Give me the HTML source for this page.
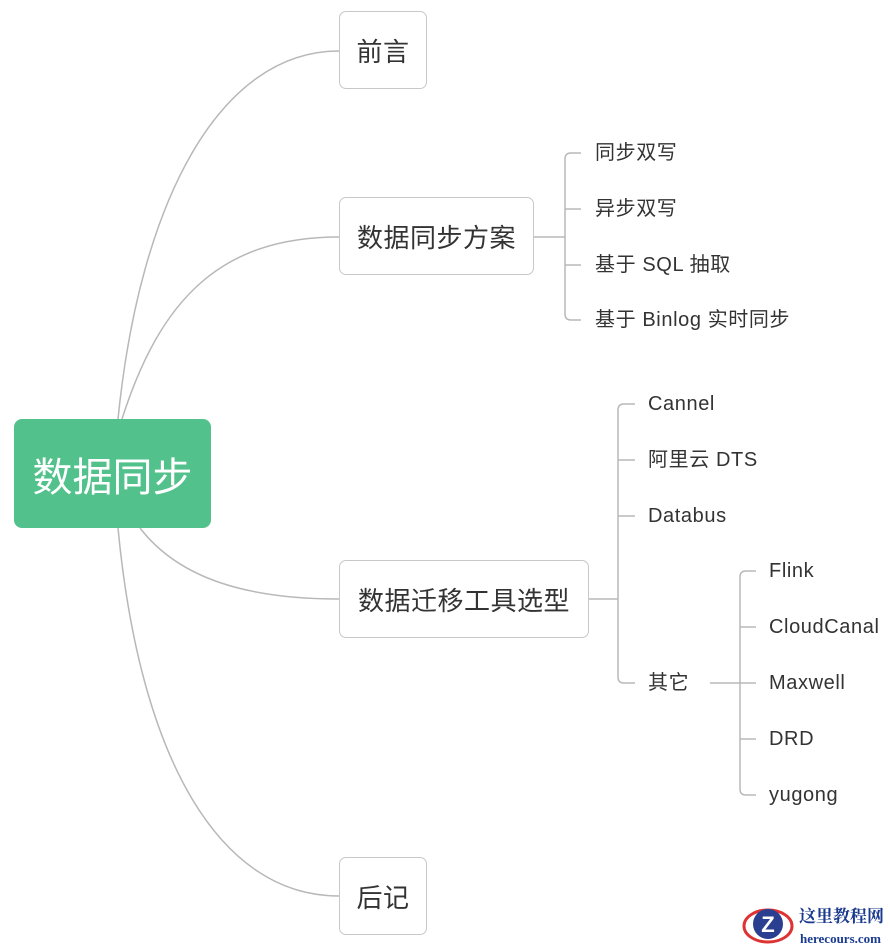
<!DOCTYPE html>
<html><head><meta charset="utf-8"><style>
html,body{margin:0;padding:0;background:#fff;width:890px;height:948px;overflow:hidden}
body{position:relative;font-family:"Liberation Sans","Noto Sans CJK SC",sans-serif;color:#333}
.box{position:absolute;border:1.5px solid #c8c8c8;border-radius:7px;background:#fff;box-sizing:border-box;display:flex;align-items:center;justify-content:center;font-size:26px;color:#333;letter-spacing:0.5px}
.root{position:absolute;left:14px;top:419px;width:197px;height:109px;background:#52c18b;border-radius:8px;color:#fff;font-size:40px;display:flex;align-items:center;justify-content:center}
.t{position:absolute;font-size:20px;line-height:24px;color:#333;white-space:nowrap;letter-spacing:0.6px}
</style></head><body>
<svg width="890" height="948" style="position:absolute;left:0;top:0" fill="none" stroke="#b8b8b8" stroke-width="1.5">
<path d="M118 419 C140 200 220 51 339 51"/>
<path d="M122 419 C160 300 220 237 339 237"/>
<path d="M140 528 C180 580 250 599 339 599"/>
<path d="M118 528 C140 760 220 896 339 896"/>
<path d="M534 237 H565"/>
<path d="M581 153 H571 Q565 153 565 159 V314 Q565 320 571 320 H581"/>
<path d="M565 209 H581 M565 265 H581"/>
<path d="M589 599 H618"/>
<path d="M635 404 H624 Q618 404 618 410 V677 Q618 683 624 683 H635"/>
<path d="M618 460 H635 M618 516 H635"/>
<path d="M710 683 H756"/>
<path d="M756 571 H746 Q740 571 740 577 V789 Q740 795 746 795 H756"/>
<path d="M740 627 H756 M740 739 H756"/>
</svg>
<div class="root">数据同步</div>
<div class="box" style="left:339px;top:11px;width:88px;height:78px">前言</div>
<div class="box" style="left:339px;top:197px;width:195px;height:78px">数据同步方案</div>
<div class="box" style="left:339px;top:560px;width:250px;height:78px">数据迁移工具选型</div>
<div class="box" style="left:339px;top:857px;width:88px;height:78px">后记</div>
<div class="t" style="left:595px;top:141px">同步双写</div>
<div class="t" style="left:595px;top:197px">异步双写</div>
<div class="t" style="left:595px;top:253px">基于 SQL 抽取</div>
<div class="t" style="left:595px;top:308px">基于 Binlog 实时同步</div>
<div class="t" style="left:648px;top:392px">Cannel</div>
<div class="t" style="left:648px;top:448px">阿里云 DTS</div>
<div class="t" style="left:648px;top:504px">Databus</div>
<div class="t" style="left:648px;top:671px">其它</div>
<div class="t" style="left:769px;top:559px">Flink</div>
<div class="t" style="left:769px;top:615px">CloudCanal</div>
<div class="t" style="left:769px;top:671px">Maxwell</div>
<div class="t" style="left:769px;top:727px">DRD</div>
<div class="t" style="left:769px;top:783px">yugong</div>
<svg width="60" height="50" style="position:absolute;left:740px;top:900px">
<ellipse cx="28" cy="26" rx="24" ry="16" fill="none" stroke="#d33" stroke-width="3"/>
<circle cx="28" cy="24" r="15" fill="#2a3f8f"/>
<text x="28" y="32" font-size="22" font-weight="bold" fill="#fff" text-anchor="middle" font-family="Liberation Sans">Z</text>
</svg>
<div class="t" style="left:799px;top:905px;font-size:17px;font-weight:bold;color:#1a3a8f;letter-spacing:0;font-family:'Liberation Serif','Noto Serif CJK SC',serif">这里教程网</div>
<div class="t" style="left:800px;top:927px;font-size:13px;font-weight:bold;color:#1a3a8f;letter-spacing:0;font-family:'Liberation Serif',serif">herecours.com</div>
</body></html>
